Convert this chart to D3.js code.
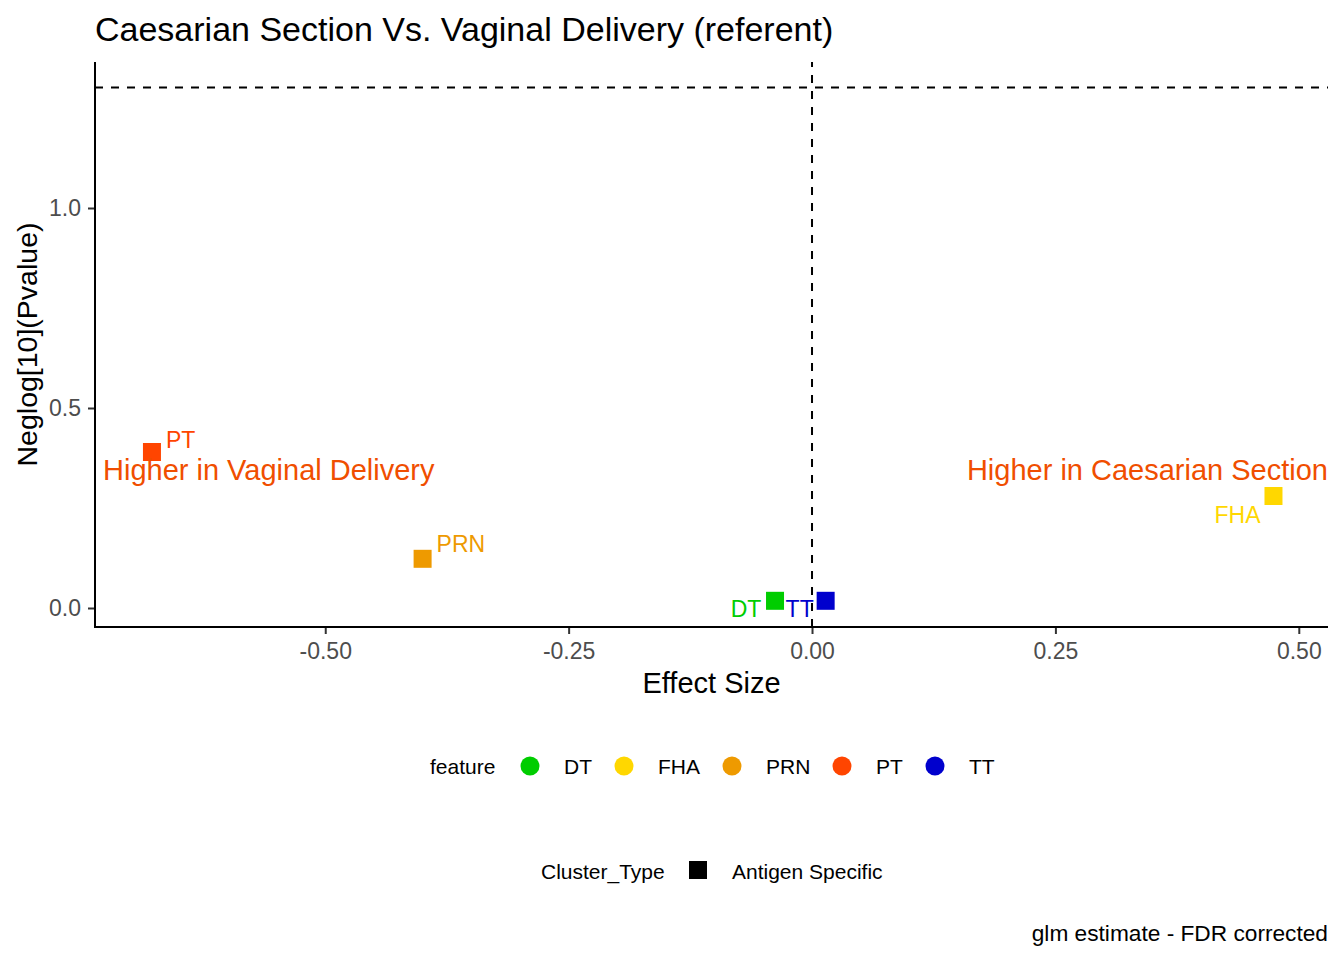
<!DOCTYPE html>
<html>
<head>
<meta charset="utf-8">
<script src="https://cdn.jsdelivr.net/npm/d3@7"></script>
<style>
    body { margin: 0; background: #fff; }
    text { font-family: "Liberation Sans", Arial, sans-serif; }
</style>
</head>
<body>
<div class="volcano"></div>
<script>
// ------------------------------------------------------
const features = [ 'DT', 'FHA', 'PRN', 'PT', 'TT' ];
const featureColors = [ '#00CD00', '#FFD700', '#EE9A00', '#FF4500', '#0000CD' ];
const effectSize = [ -0.038, 0.474, -0.400, -0.678, 0.014 ];
const neglogP = [ 0.018, 0.28, 0.123, 0.39, 0.018 ];
const xTicks = [ -0.50, -0.25, 0.00, 0.25, 0.50 ];
const yTicks = [ 0.0, 0.5, 1.0 ];
const threshold = -Math.log10( 0.05 );
// ------------------------------------------------------
const width = 1344;
const height = 960;
const margin = { top: 62, right: 16, bottom: 333, left: 95 };
const font = '"Liberation Sans", Arial, sans-serif';
// ------------------------------------------------------
const svg = d3.select( '.volcano' )
    .append( 'svg' )
    .attr( 'width', width )
    .attr( 'height', height );
// ------------------------------------------------------
const x = d3.scaleLinear()
    .domain( [ -0.7365, 0.530 ] )
    .range( [ margin.left, width - margin.right ] );
const y = d3.scaleLinear()
    .domain( [ -0.0475, 1.365 ] )
    .range( [ height - margin.bottom, margin.top ] );
const color = d3.scaleOrdinal( features, featureColors );
// ------------------------------------------------------
// reference lines
svg.append( 'line' )
    .attr( 'x1', x.range()[0] ).attr( 'x2', x.range()[1] )
    .attr( 'y1', y( threshold ) ).attr( 'y2', y( threshold ) )
    .attr( 'stroke', '#000' ).attr( 'stroke-width', 2 )
    .attr( 'stroke-dasharray', '8,8' );
svg.append( 'line' )
    .attr( 'x1', x( 0 ) ).attr( 'x2', x( 0 ) )
    .attr( 'y1', y.range()[0] ).attr( 'y2', y.range()[1] )
    .attr( 'stroke', '#000' ).attr( 'stroke-width', 2 )
    .attr( 'stroke-dasharray', '8,8' );
// ------------------------------------------------------
// axes
const xAxis = svg.append( 'g' )
    .attr( 'transform', 'translate(0,' + ( height - margin.bottom ) + ')' )
    .call( d3.axisBottom( x ).tickValues( xTicks ).tickFormat( function ( d ) { return d3.format( '.2f' )( d ).replace( '−', '-' ); } ).tickSizeOuter( 0 ).tickSize( 7 ).tickPadding( 9 ) );
const yAxis = svg.append( 'g' )
    .attr( 'transform', 'translate(' + margin.left + ',0)' )
    .call( d3.axisLeft( y ).tickValues( yTicks ).tickFormat( d3.format( '.1f' ) ).tickSizeOuter( 0 ).tickSize( 7 ).tickPadding( 7 ) );
[ xAxis, yAxis ].forEach( function ( g ) {
    g.select( '.domain' ).remove();
    g.selectAll( '.tick line' ).attr( 'stroke', '#333' ).attr( 'stroke-width', 2 );
    g.selectAll( '.tick text' ).attr( 'fill', '#4D4D4D' ).attr( 'font-size', '23px' )
        .style( 'font-family', font );
});
svg.append( 'path' )
    .attr( 'd', 'M' + x.range()[0] + ',' + y.range()[1] + 'V' + y.range()[0] + 'H' + x.range()[1] )
    .attr( 'fill', 'none' )
    .attr( 'stroke', '#000' )
    .attr( 'stroke-width', 2 );
// ------------------------------------------------------
// points
const data = features.map( function ( f, i ) {
    return { feature: f, x: effectSize[i], y: neglogP[i] };
});
const sq = 18;
svg.selectAll( '.pt' )
    .data( data )
    .enter()
    .append( 'rect' )
    .classed( 'pt', true )
    .attr( 'x', function ( d ) { return x( d.x ) - sq / 2; } )
    .attr( 'y', function ( d ) { return y( d.y ) - sq / 2; } )
    .attr( 'width', sq )
    .attr( 'height', sq )
    .attr( 'fill', function ( d ) { return color( d.feature ); } );
// ------------------------------------------------------
// point labels (repelled positions)
const labelOffsets = {
    DT: [ -29, 16, 'middle' ], FHA: [ -36, 27, 'middle' ], PRN: [ 14, -7, 'start' ],
    PT: [ 14, -4, 'start' ], TT: [ -26, 16, 'middle' ]
};
svg.selectAll( '.lbl' )
    .data( data )
    .enter()
    .append( 'text' )
    .classed( 'lbl', true )
    .attr( 'x', function ( d ) { return x( d.x ) + labelOffsets[d.feature][0]; } )
    .attr( 'y', function ( d ) { return y( d.y ) + labelOffsets[d.feature][1]; } )
    .attr( 'text-anchor', function ( d ) { return labelOffsets[d.feature][2]; } )
    .attr( 'font-size', '23px' )
    .attr( 'fill', function ( d ) { return color( d.feature ); } )
    .text( function ( d ) { return d.feature; } );
// ------------------------------------------------------
// annotations
svg.append( 'text' )
    .attr( 'x', 103 ).attr( 'y', 480 )
    .attr( 'font-size', '29px' ).attr( 'fill', '#F04E00' )
    .text( 'Higher in Vaginal Delivery' );
svg.append( 'text' )
    .attr( 'x', 1328 ).attr( 'y', 480 )
    .attr( 'text-anchor', 'end' )
    .attr( 'font-size', '29px' ).attr( 'fill', '#F04E00' )
    .text( 'Higher in Caesarian Section' );
// ------------------------------------------------------
// titles
svg.append( 'text' )
    .attr( 'x', 95 ).attr( 'y', 41 )
    .attr( 'font-size', '34px' ).attr( 'fill', '#000' )
    .text( 'Caesarian Section Vs. Vaginal Delivery (referent)' );
svg.append( 'text' )
    .attr( 'x', ( x.range()[0] + x.range()[1] ) / 2 ).attr( 'y', 693 )
    .attr( 'text-anchor', 'middle' )
    .attr( 'font-size', '29px' ).attr( 'fill', '#000' )
    .text( 'Effect Size' );
svg.append( 'text' )
    .attr( 'transform', 'translate(37,' + ( ( y.range()[0] + y.range()[1] ) / 2 ) + ') rotate(-90)' )
    .attr( 'text-anchor', 'middle' )
    .attr( 'font-size', '28.5px' ).attr( 'fill', '#000' )
    .text( 'Neglog[10](Pvalue)' );
svg.append( 'text' )
    .attr( 'x', 1328 ).attr( 'y', 941 )
    .attr( 'text-anchor', 'end' )
    .attr( 'font-size', '22.7px' ).attr( 'fill', '#000' )
    .text( 'glm estimate - FDR corrected' );
// ------------------------------------------------------
// legends
const legendY = 766;
const legendX = [ 530, 624, 732, 842, 935 ];
svg.append( 'text' )
    .attr( 'x', 430 ).attr( 'y', legendY + 8 )
    .attr( 'font-size', '21px' ).attr( 'fill', '#000' )
    .text( 'feature' );
const legendItems = svg.selectAll( '.leg' )
    .data( features )
    .enter()
    .append( 'g' )
    .classed( 'leg', true )
    .attr( 'transform', function ( d, i ) { return 'translate(' + legendX[i] + ',' + legendY + ')'; } );
legendItems.append( 'circle' )
    .attr( 'r', 9.5 )
    .attr( 'fill', function ( d ) { return color( d ); } );
legendItems.append( 'text' )
    .attr( 'x', 34 ).attr( 'y', 8 )
    .attr( 'font-size', '21px' ).attr( 'fill', '#000' )
    .text( function ( d ) { return d; } );
svg.append( 'text' )
    .attr( 'x', 541 ).attr( 'y', 879 )
    .attr( 'font-size', '21px' ).attr( 'fill', '#000' )
    .text( 'Cluster_Type' );
svg.append( 'rect' )
    .attr( 'x', 689 ).attr( 'y', 861 )
    .attr( 'width', 18 ).attr( 'height', 18 )
    .attr( 'fill', '#000' );
svg.append( 'text' )
    .attr( 'x', 732 ).attr( 'y', 879 )
    .attr( 'font-size', '21px' ).attr( 'fill', '#000' )
    .text( 'Antigen Specific' );
</script>
</body>
</html>
